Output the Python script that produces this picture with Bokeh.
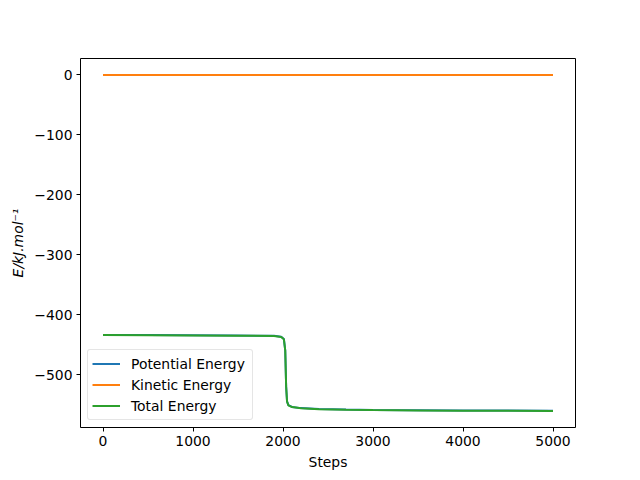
from bokeh.plotting import figure
from bokeh.models import FixedTicker, Range1d, Legend, LegendItem
from bokeh.embed import file_html
from bokeh.resources import INLINE

steps = [0, 500, 1000, 1500, 1900, 1980, 2010, 2025, 2035, 2045, 2060, 2100, 2200, 2400, 2700, 3000, 3500, 4000, 4500, 5000]
total = [-434, -434.3, -434.6, -435, -435.5, -437, -441, -460, -520, -545, -551, -554, -556, -557.5, -558.5, -559, -559.5, -560, -560, -560.5]
kinetic = [-0.3, -0.3, -0.3, -0.3, -0.3, -0.3, -0.3, -0.4, -0.5, -0.5, -0.4, -0.3, -0.3, -0.3, -0.3, -0.3, -0.3, -0.3, -0.3, -0.3]
potential = [t - k for t, k in zip(total, kinetic)]

x_ticks = [0, 1000, 2000, 3000, 4000, 5000]
y_ticks = [0, -100, -200, -300, -400, -500]

FONT = "DejaVu Sans"
FS = "13.9px"

p = figure(width=632, height=472, output_backend="svg", toolbar_location=None,
           x_range=Range1d(-250, 5250), y_range=Range1d(-588, 27))
p.frame_width = 495
p.frame_height = 369
p.min_border_left = 80
p.min_border_right = 57
p.min_border_top = 58
p.min_border_bottom = 45

p.grid.visible = False
p.outline_line_color = "black"
p.outline_line_width = 1
p.background_fill_color = "white"
p.border_fill_color = "white"

r1 = p.line(steps, potential, line_color="#1f77b4", line_width=2)
r2 = p.line(steps, kinetic, line_color="#ff7f0e", line_width=2)
r3 = p.line(steps, total, line_color="#2ca02c", line_width=2)

p.xaxis.ticker = FixedTicker(ticks=x_ticks)
p.yaxis.ticker = FixedTicker(ticks=y_ticks)
p.yaxis.major_label_overrides = {v: str(v).replace("-", "\u2212") for v in y_ticks}

for ax in (p.xaxis[0], p.yaxis[0]):
    ax.axis_line_color = None
    ax.major_tick_line_color = "black"
    ax.major_tick_out = 4
    ax.major_tick_in = 0
    ax.minor_tick_line_color = None
    ax.major_label_text_font = FONT
    ax.major_label_text_font_size = FS
    ax.major_label_text_color = "black"
    ax.axis_label_text_font = FONT
    ax.axis_label_text_font_size = FS
    ax.axis_label_text_color = "black"
    ax.axis_label_standoff = 5
    ax.major_label_standoff = 4

p.xaxis.axis_label = "Steps"
p.xaxis.axis_label_text_font_style = "normal"
p.yaxis.axis_label = "E/kJ.mol\u207b\u00b9"
p.yaxis.axis_label_text_font_style = "italic"

legend = Legend(items=[
    LegendItem(label="Potential Energy", renderers=[r1]),
    LegendItem(label="Kinetic Energy", renderers=[r2]),
    LegendItem(label="Total Energy", renderers=[r3]),
], location=(7, 7))
legend.label_text_font = FONT
legend.label_text_font_size = FS
legend.label_text_color = "black"
legend.glyph_width = 28
legend.glyph_height = 19
legend.label_height = 19
legend.label_width = 117
legend.spacing = 2
legend.padding = 4
legend.margin = 0
legend.label_standoff = 11
legend.border_line_color = "#cccccc"
legend.border_line_width = 1
legend.border_radius = 3
legend.background_fill_alpha = 0.8
p.add_layout(legend)

open("out.html", "w").write(file_html(p, INLINE))
